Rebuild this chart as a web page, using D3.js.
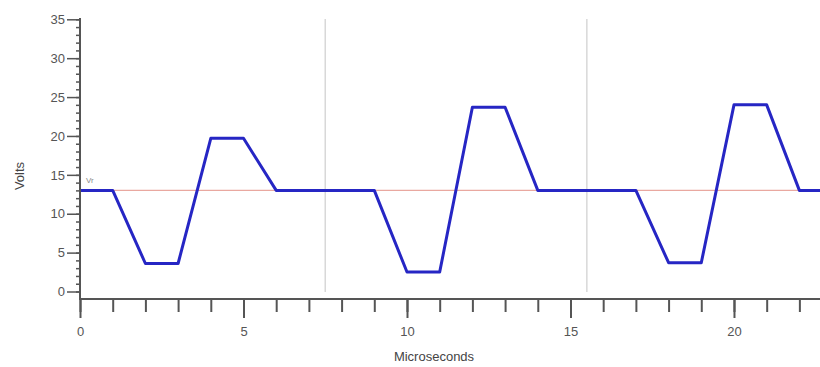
<!DOCTYPE html>
<html><head><meta charset="utf-8">
<script src="https://cdn.jsdelivr.net/npm/d3@7"></script>
<style>body{margin:0;background:#fff}svg{display:block}text{font-family:"Liberation Sans",Arial,sans-serif}</style>
</head><body>
<svg id="c" width="820" height="367"></svg>
<script>
const times = [0,1,2,3,4,5,6,7,8,9,10,11,12,13,14,15,16,17,18,19,20,21,22,23];
const volts = [13,13,3.6,3.6,19.7,19.7,13,13,13,13,2.5,2.5,23.7,23.7,13,13,13,13,3.7,3.7,24,24,13,13];
const refLevel = 13;
const refLabel = "Vr";
const markerTimes = [7.5, 15.5];
const xMajorTicks = [0,5,10,15,20];
const yMajorTicks = [0,5,10,15,20,25,30,35];
const xLabel = "Microseconds", yLabel = "Volts";

const svg = d3.select("#c");
const x = d3.scaleLinear().domain([0,22.6]).range([80,819]);
const y = d3.scaleLinear().domain([0,35]).range([291.5,19.3]);
const axisY = 299;

svg.append("defs").append("clipPath").attr("id","clip")
  .append("rect").attr("x",80).attr("y",0).attr("width",740).attr("height",299);

// marker lines
svg.selectAll(".mk").data(markerTimes).join("line")
  .attr("x1",d=>x(d)).attr("x2",d=>x(d)).attr("y1",19).attr("y2",292)
  .attr("stroke","#d8d8d8").attr("stroke-width",1.5);

// reference line
svg.append("line").attr("x1",80).attr("x2",820).attr("y1",y(refLevel)).attr("y2",y(refLevel))
  .attr("stroke","#e9a8a0").attr("stroke-width",1.3);
svg.append("text").attr("x",86).attr("y",y(refLevel)-7).attr("font-size",8).attr("fill","#8a8a8a").text(refLabel);

// waveform
svg.append("path").datum(times.map((t,i)=>[t,volts[i]]))
  .attr("clip-path","url(#clip)")
  .attr("d",d3.line().x(d=>x(d[0])).y(d=>y(d[1])))
  .attr("fill","none").attr("stroke","#2626c4").attr("stroke-width",3).attr("stroke-linejoin","round");

// Y axis
const gy = svg.append("g").attr("transform","translate(80,0)");
gy.call(d3.axisLeft(y).tickValues(d3.range(0,36,1)).tickSize(4).tickFormat(""))
  .call(g=>g.select(".domain").remove());
gy.selectAll(".tick line").attr("stroke","#555").attr("stroke-width",1.5);
const gy2 = svg.append("g").attr("transform","translate(80,0)");
gy2.call(d3.axisLeft(y).tickValues(yMajorTicks).tickSize(13).tickPadding(2))
  .call(g=>g.select(".domain").remove());
gy2.selectAll(".tick line").attr("stroke","#555").attr("stroke-width",1.5);
gy2.selectAll(".tick text").attr("font-size",13).attr("fill","#555");
svg.append("line").attr("x1",80).attr("x2",80).attr("y1",18).attr("y2",axisY+1).attr("stroke","#555").attr("stroke-width",2);

// X axis
const gx = svg.append("g").attr("transform",`translate(0,${axisY})`);
gx.call(d3.axisBottom(x).tickValues(d3.range(0,23,1)).tickSize(13).tickFormat(""))
  .call(g=>g.select(".domain").remove());
gx.selectAll(".tick line").attr("stroke","#555").attr("stroke-width",2);
const gx2 = svg.append("g").attr("transform",`translate(0,${axisY})`);
gx2.call(d3.axisBottom(x).tickValues(xMajorTicks).tickSize(19).tickPadding(9))
  .call(g=>g.select(".domain").remove());
gx2.selectAll(".tick line").attr("stroke","#555").attr("stroke-width",2);
gx2.selectAll(".tick text").attr("font-size",13).attr("fill","#555");
svg.append("line").attr("x1",79).attr("x2",820).attr("y1",axisY).attr("y2",axisY).attr("stroke","#555").attr("stroke-width",2);

// axis titles
svg.append("text").attr("x",434).attr("y",361).attr("text-anchor","middle").attr("font-size",13).attr("fill","#444").text(xLabel);
svg.append("text").attr("transform","translate(24,176) rotate(-90)").attr("text-anchor","middle").attr("font-size",13).attr("fill","#444").text(yLabel);
</script>
</body></html>
